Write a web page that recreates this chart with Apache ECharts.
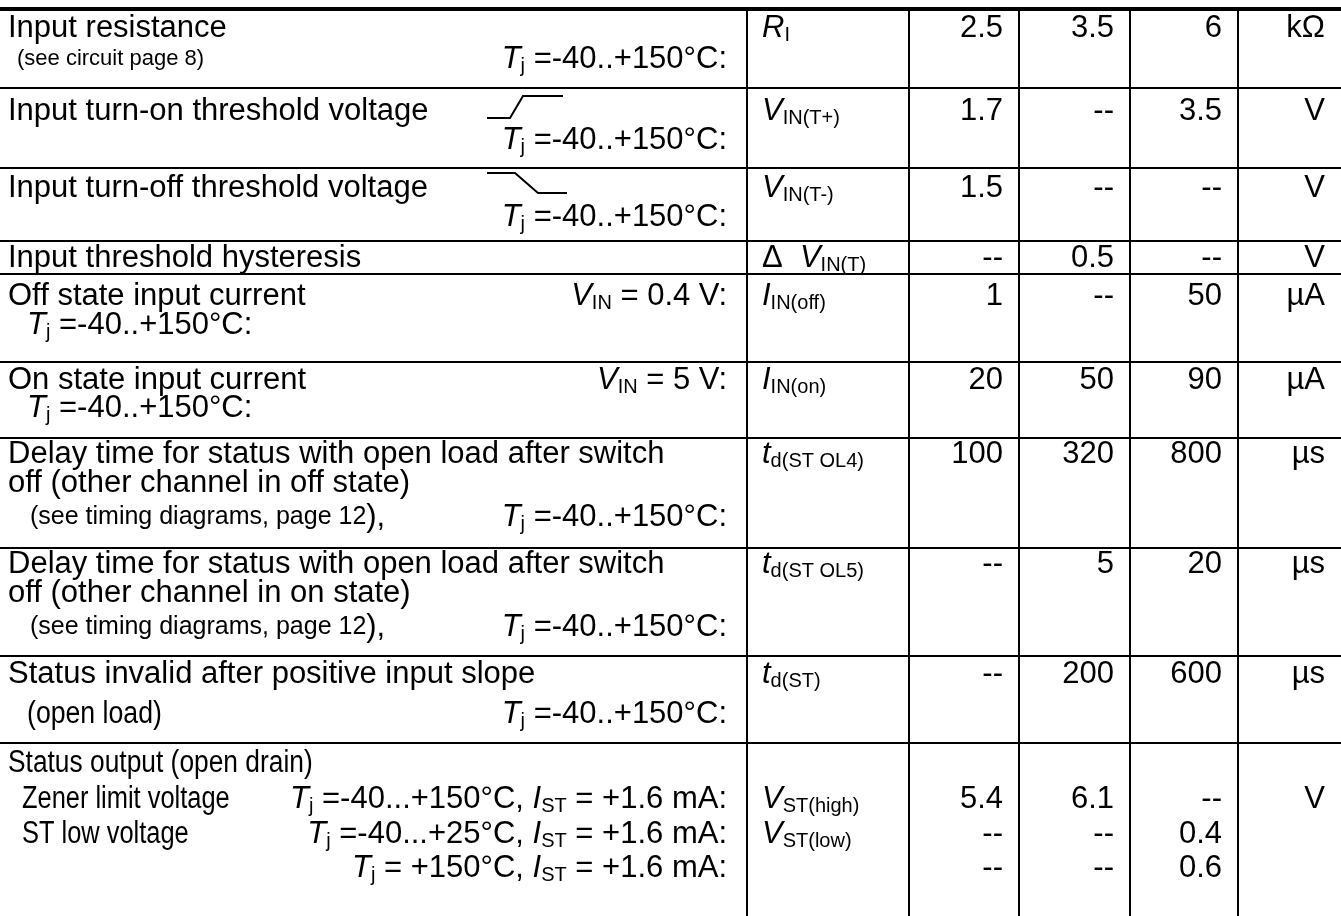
<!DOCTYPE html>
<html>
<head>
<meta charset="utf-8">
<title>Input / status characteristics</title>
<script src="https://cdn.jsdelivr.net/npm/echarts@6/dist/echarts.min.js"></script>
<style>
  html, body { margin: 0; padding: 0; background: #fff; }
  #chart { width: 1341px; height: 916px; }
</style>
</head>
<body>
<div id="chart"></div>
<script>
/* ── Table content ─────────────────────────────────────── */
const T40 = '{i|T}{s|j} =-40..+150°C:';

// left column: [line, text, text style]
const paramLines = [
  [[0, 'Input resistance', 'main'], [1, '(see circuit page 8)', 'note']],
  [[0, 'Input turn-on threshold voltage', 'main']],
  [[0, 'Input turn-off threshold voltage', 'main']],
  [[0, 'Input threshold hysteresis', 'main']],
  [[0, 'Off state input current', 'main'], [1, T40, 'indent']],
  [[0, 'On state input current', 'main'], [1, T40, 'indent']],
  [[0, 'Delay time for status with open load after switch', 'main'],
   [1, 'off (other channel in off state)', 'main'],
   [2, '(see timing diagrams, page 12{p|),}', 'timing']],
  [[0, 'Delay time for status with open load after switch', 'main'],
   [1, 'off (other channel in on state)', 'main'],
   [2, '(see timing diagrams, page 12{p|),}', 'timing']],
  [[0, 'Status invalid after positive input slope', 'main'], [1, '(open load)', 'narrowIndent']],
  [[0, 'Status output (open drain)', 'narrowHead'],
   [1, 'Zener limit voltage', 'narrowSub'],
   [2, 'ST low voltage', 'narrowSub']]
];

// right-aligned test conditions: [line, text]
const condLines = [
  [[1, T40]],
  [[1, T40]],
  [[1, T40]],
  [],
  [[0, '{i|V}{s|IN} = 0.4 V:']],
  [[0, '{i|V}{s|IN} = 5 V:']],
  [[2, T40]],
  [[2, T40]],
  [[1, T40]],
  [[1, '{i|T}{s|j} =-40...+150°C, {i|I}{s|ST} = +1.6 mA:'],
   [2, '{i|T}{s|j} =-40...+25°C, {i|I}{s|ST} = +1.6 mA:'],
   [3, '{i|T}{s|j} = +150°C, {i|I}{s|ST} = +1.6 mA:']]
];

// input signal icons per row
const signalIcon = [null, 'rise', 'fall', null, null, null, null, null, null, null];

// value lines
const symbols = ['{i|R}{s|I}', '{i|V}{s|IN(T+)}', '{i|V}{s|IN(T-)}', 'Δ  {i|V}{s|IN(T)}',
  '{i|I}{s|IN(off)}', '{i|I}{s|IN(on)}', '{i|t}{s|d(ST OL4)}', '{i|t}{s|d(ST OL5)}',
  '{i|t}{s|d(ST)}', '{i|V}{s|ST(high)}', '{i|V}{s|ST(low)}', ''];
const minVals = ['2.5', '1.7', '1.5', '--', '1', '20', '100', '--', '--', '5.4', '--', '--'];
const typVals = ['3.5', '--', '--', '0.5', '--', '50', '320', '5', '200', '6.1', '--', '--'];
const maxVals = ['6', '3.5', '--', '--', '50', '90', '800', '20', '600', '--', '0.4', '0.6'];
const units = ['kΩ', 'V', 'V', 'V', 'µA', 'µA', 'µs', 'µs', 'µs', 'V', '', ''];
const valueRow = [0, 1, 2, 3, 4, 5, 6, 7, 8, 9, 9, 9];
const valueLine = [0, 0, 0, 0, 0, 0, 0, 0, 0, 1, 2, 3];

/* ── Layout ────────────────────────────────────────────── */
const W = 1341, H = 916;
const FONT = 'Liberation Sans, Arial, Helvetica, sans-serif';
const colX = [0, 747, 909, 1019, 1130, 1238, 1345];
const rowY = [9, 88, 168, 241, 274, 362, 438, 548, 656, 743, 940];
const lineOffsets = [[19, 50], [23, 52], [20, 49], [17], [22, 51], [18, 46],
  [16, 45, 79], [16, 45, 79], [18, 58], [20, 56, 91, 125]];
const TEXT = {
  main:         { x: 8,  size: 31, sx: 1 },
  note:         { x: 17, size: 22, sx: 1 },
  indent:       { x: 27, size: 31, sx: 1 },
  timing:       { x: 30, size: 25, sx: 1 },
  narrowIndent: { x: 27, size: 31, sx: 0.86 },
  narrowHead:   { x: 8,  size: 31, sx: 0.85 },
  narrowSub:    { x: 22, size: 31, sx: 0.82 }
};
const ICONS = {
  rise: [[487, 30], [510, 30], [523, 8], [563, 8]],
  fall: [[487, 5], [515, 5], [538, 25], [567, 25]]
};
const RICH = {
  i: { fontSize: 31, fontStyle: 'italic', fontFamily: FONT, lineHeight: 34, verticalAlign: 'middle' },
  s: { fontSize: 20, fontFamily: FONT, lineHeight: 18, verticalAlign: 'bottom' },
  p: { fontSize: 31, fontFamily: FONT, lineHeight: 34, verticalAlign: 'middle' }
};

function renderRow(params, api) {
  const r = params.dataIndex;
  const top = rowY[r], bottom = rowY[r + 1];
  const at = (x, y) => api.coord([x, y]);
  const lineY = k => top + lineOffsets[r][k];
  const kids = [];

  const seg = (x1, y1, x2, y2, w) => {
    const a = at(x1, y1), b = at(x2, y2);
    kids.push({ type: 'line', silent: true,
      shape: { x1: a[0], y1: a[1], x2: b[0], y2: b[1] },
      style: { stroke: '#000', lineWidth: w } });
  };
  const label = (x, y, text, align, st) => {
    const p = at(x, y);
    kids.push({ type: 'text', silent: true, x: p[0], y: p[1], scaleX: st.sx || 1,
      style: { text, rich: RICH, fontSize: st.size, fontFamily: FONT, fill: '#000',
        align, verticalAlign: 'middle', lineHeight: 34 } });
  };

  // borders
  seg(0, top, W, top, r === 0 ? 4 : 2);
  colX.slice(1, -1).forEach(x => seg(x, top, x, bottom, 2));

  // parameter text + conditions
  paramLines[r].forEach(([k, t, s]) => label(TEXT[s].x, lineY(k), t, 'left', TEXT[s]));
  condLines[r].forEach(([k, t]) => label(colX[1] - 20, lineY(k), t, 'right', TEXT.main));

  // input signal icon
  if (signalIcon[r]) {
    const pts = ICONS[signalIcon[r]].map(([x, dy]) => at(x, top + dy));
    kids.push({ type: 'polyline', silent: true, shape: { points: pts },
      style: { stroke: '#000', lineWidth: 2, fill: null } });
  }

  // symbol, min, typ, max, unit
  valueRow.forEach((vr, i) => {
    if (vr !== r) return;
    const y = lineY(valueLine[i]);
    if (symbols[i]) label(colX[1] + 15, y, symbols[i], 'left', TEXT.main);
    label(colX[3] - 16, y, minVals[i], 'right', TEXT.main);
    label(colX[4] - 16, y, typVals[i], 'right', TEXT.main);
    label(colX[5] - 16, y, maxVals[i], 'right', TEXT.main);
    if (units[i]) label(1325, y, units[i], 'right', TEXT.main);
  });

  return { type: 'group', children: kids };
}

const chart = echarts.init(document.getElementById('chart'), null, { renderer: 'canvas' });
chart.setOption({
  animation: false,
  backgroundColor: '#fff',
  grid: { left: 0, right: 0, top: 0, bottom: 0 },
  xAxis: { type: 'value', min: 0, max: W, show: false },
  yAxis: { type: 'value', min: 0, max: H, inverse: true, show: false },
  series: [{
    type: 'custom',
    clip: false,
    renderItem: renderRow,
    encode: { x: 0, y: 1 },
    data: paramLines.map((_, i) => [0, rowY[i]])
  }]
});

window.addEventListener('resize', () => chart.resize());
</script>
</body>
</html>
